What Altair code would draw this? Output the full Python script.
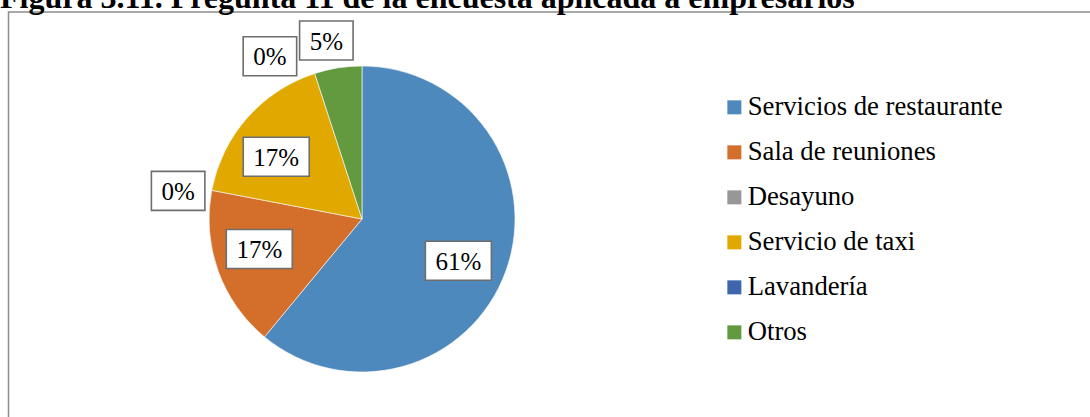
import altair as alt
import pandas as pd

title_text = "Figura 3.11. Pregunta 11 de la encuesta aplicada a empresarios"
categories = ["Servicios de restaurante", "Sala de reuniones", "Desayuno",
              "Servicio de taxi", "Lavandería", "Otros"]
values = [61, 17, 0, 17, 0, 5]
colors = ["#4E89BD", "#D36E2B", "#979797", "#E1A900", "#3F66AD", "#639A3F"]

# label layout (style): radial distance and angular nudge in degrees
label_radius = [105, 107, 186, 106, 187, 182]
label_nudge = [3.6, 3.5, -2.1, -5.4, -11.5, -2.3]

CX, CY, R = 362, 219, 153
FONT = "Liberation Serif"

df = pd.DataFrame({"cat": categories, "value": values, "idx": list(range(len(values))),
                   "lr": label_radius, "nudge": label_nudge})
tdf = pd.DataFrame({"t": [title_text]})

frame = alt.Chart(tdf).mark_rect(fill="white", stroke="#8c8c8c", strokeWidth=1.5).encode(
    x=alt.value(8.5), x2=alt.value(1120), y=alt.value(12), y2=alt.value(440))

pie = alt.Chart(df).transform_filter("datum.value > 0").mark_arc(
    outerRadius=R, stroke="white", strokeWidth=0.6).encode(
    theta=alt.Theta("value:Q", stack=True),
    order=alt.Order("idx:Q"),
    color=alt.Color("cat:N", sort=categories,
                    scale=alt.Scale(domain=categories, range=colors),
                    legend=alt.Legend(title=None, orient="none", legendX=721, legendY=94,
                                      symbolType="square", symbolSize=196,
                                      symbolStrokeWidth=0, symbolOpacity=1,
                                      labelFont=FONT, labelFontSize=26.7, labelColor="black",
                                      labelLimit=600, rowPadding=17, labelOffset=0,
                                      padding=0)),
    x=alt.value(CX), y=alt.value(CY))

lab = alt.Chart(df).transform_joinaggregate(total="sum(value)").transform_window(
    cum="sum(value)", sort=[alt.SortField("idx")], frame=[None, 0]
).transform_calculate(
    ang="((datum.cum - datum.value/2)/datum.total*360 + datum.nudge) * PI / 180",
    lx=f"{CX} + datum.lr * sin(datum.ang)",
    ly=f"{CY} - datum.lr * cos(datum.ang)",
    txt="format(datum.value/datum.total, '.0%')",
    w="(length(datum.txt) - 1) * 12.5 + 41",
    bx1="datum.lx - datum.w/2", bx2="datum.lx + datum.w/2",
    by1="datum.ly - 19.5", by2="datum.ly + 19.5")

boxes = lab.mark_rect(fill="white", stroke="#6e6e6e", strokeWidth=1.6).encode(
    x=alt.X("bx1:Q", scale=None), x2="bx2:Q",
    y=alt.Y("by1:Q", scale=None), y2="by2:Q")

texts = lab.mark_text(font=FONT, fontSize=25, color="black", align="center",
                      baseline="middle", dy=1).encode(
    x=alt.X("lx:Q", scale=None), y=alt.Y("ly:Q", scale=None), text="txt:N")

title = alt.Chart(tdf).mark_text(font=FONT, fontSize=32, fontWeight="bold", color="black",
                                 align="left", baseline="alphabetic").encode(
    x=alt.value(0), y=alt.value(8), text="t:N")

chart = alt.layer(frame, pie, boxes, texts, title).properties(
    width=1090, height=417, padding=0, autosize="none", background="white"
).configure_view(stroke=None)

chart.save("out.html", embed_options={"renderer": "svg", "actions": False})
